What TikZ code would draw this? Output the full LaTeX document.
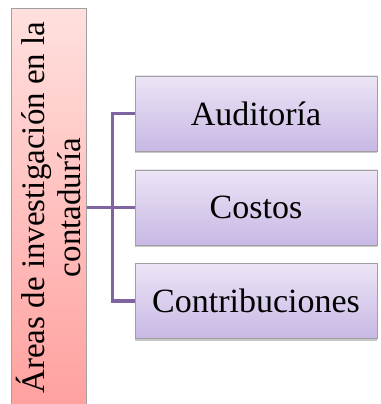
\documentclass[tikz,border=0pt]{standalone}
\usepackage{fontspec}
\setmainfont{Liberation Serif}
\usetikzlibrary{shapes.misc}
\usetikzlibrary{calc,positioning,shadows}

\definecolor{branchpurple}{RGB}{128,100,162}
\definecolor{boxgray}{RGB}{160,160,160}

\begin{document}
\begin{tikzpicture}[
	%	style def
    x=1pt, y=1pt,
    area box/.style={draw=boxgray, line width=1pt, rectangle, minimum width=75pt, minimum height=402pt, inner sep=0pt,
        top color={rgb,255:red,255;green,224;blue,222}, bottom color={rgb,255:red,255;green,160;blue,158}},
    topic box/.style={draw=boxgray, line width=0.8pt, rectangle, minimum width=242pt, minimum height=75pt, inner sep=0pt,
        top color={rgb,255:red,236;green,228;blue,246}, bottom color={rgb,255:red,200;green,184;blue,228},
        drop shadow={shadow xshift=0pt, shadow yshift=-2.5pt, opacity=0.45}},
    branch line/.style={line width=3.6pt, draw=branchpurple},
    every node/.style={color=black, font=\fontsize{34}{37}\selectfont}
    ]
	\useasboundingbox (0,0) rectangle (380,404);

	% left box with the rotated title
	\node[area box] (area) at (48.5,194) {};
	\node[rotate=90, align=center, inner sep=0pt, font=\fontsize{33}{36}\selectfont] (area text) at (48,196.5) {Áreas de investigación en la\\contaduría};

	% boxes on the right
	\node[topic box] (audit) at (256,290.5) {Auditoría};
	\node[topic box] (costs) at (256,196.5) {Costos};
	\node[topic box] (contrib) at (256,103) {Contribuciones};

	% fork joining the title to the boxes
	\coordinate (fork) at (112.5,196.5);
	\draw[branch line] (area.east |- costs.west) -- (costs.west);
	\draw[branch line] (audit.west) -- (audit.west -| fork) -- (contrib.west -| fork) -- (contrib.west);

\end{tikzpicture}
\end{document}
